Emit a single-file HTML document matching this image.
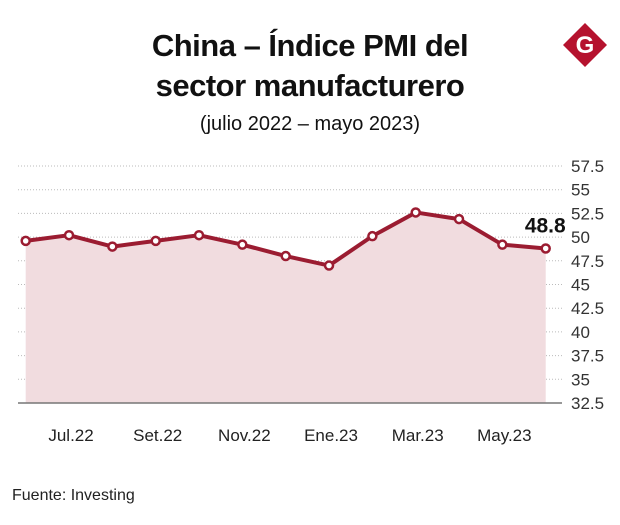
<!DOCTYPE html>
<html><head><meta charset="utf-8"><style>
body{margin:0;background:#fff;font-family:"Liberation Sans",sans-serif}
#wrap{position:relative;width:620px;height:525px;overflow:hidden}
.t{position:absolute;left:0;width:620px;text-align:center;color:#111}
</style></head><body>
<div id="wrap">
<div class="t" style="top:26px;font-size:31px;font-weight:bold;line-height:40px;letter-spacing:-0.5px">China – Índice PMI del<br>sector manufacturero</div>
<div class="t" style="top:113px;font-size:20px">(julio 2022 – mayo 2023)</div>
<svg style="position:absolute;left:562px;top:22px" width="46" height="46" viewBox="0 0 46 46">
<polygon points="23,1 45,23 23,45 1,23" fill="#b5122e"/>
<text x="23" y="31" text-anchor="middle" font-size="24" font-weight="bold" fill="#fff" font-family="Liberation Sans">G</text></svg>
<svg id="chart" width="620" height="525" style="position:absolute;left:0;top:0"></svg>
<div style="position:absolute;left:12px;top:487px;font-size:16px;color:#222">Fuente: Investing</div>
</div>
<script>
const values=[49.6,50.2,49.0,49.6,50.2,49.2,48.0,47.0,50.1,52.6,51.9,49.2,48.8];
const yTicks=[32.5,35,37.5,40,42.5,45,47.5,50,52.5,55,57.5];
const yTickLabels=["32.5","35","37.5","40","42.5","45","47.5","50","52.5","55","57.5"];
const xLabels=["Jul.22","Set.22","Nov.22","Ene.23","Mar.23","May.23"];
const xLabelIdx=[1,3,5,7,9,11];
const lastLabel="48.8";
const NS="http://www.w3.org/2000/svg",svg=document.getElementById('chart');
const x=i=>25.7+i*(545.7-25.7)/(values.length-1);
const y=v=>403-(v-32.5)*(403-166)/25;
function mk(t,a){const e=document.createElementNS(NS,t);for(const k in a)e.setAttribute(k,a[k]);svg.appendChild(e);return e;}
yTicks.forEach((v,i)=>{
 if(i>0){const g=mk('line',{x1:18,x2:562,y1:y(v),y2:y(v),stroke:'#bbb','stroke-dasharray':'1,2'});
 
 }
 const t=mk('text',{x:571,y:y(v)+6,'font-size':17,fill:'#333','font-family':'Liberation Sans'});t.textContent=yTickLabels[i];
 
 
});
let d='M'+x(0)+','+y(32.5);values.forEach((v,i)=>d+=' L'+x(i)+','+y(v));d+=' L'+x(values.length-1)+','+y(32.5)+'Z';
const area=mk('path',{d:d,fill:'#f1dcdf'});


const ax=mk('line',{x1:18,x2:562,y1:y(32.5),y2:y(32.5),stroke:'#777','stroke-width':1.5});


const line=mk('polyline',{points:values.map((v,i)=>x(i)+','+y(v)).join(' '),fill:'none',stroke:'#9b1c31','stroke-width':4,'stroke-linejoin':'round'});


values.forEach((v,i)=>{const c=mk('circle',{cx:x(i),cy:y(v),r:4,fill:'#fff',stroke:'#9b1c31','stroke-width':2.5});
 
 });
xLabels.forEach((l,i)=>{const t=mk('text',{x:x(xLabelIdx[i])+2,y:441,'text-anchor':'middle','font-size':17,fill:'#222','font-family':'Liberation Sans'});t.textContent=l;
 
 });
const lv=mk('text',{x:x(values.length-1)+20,y:y(values[values.length-1])-16,'text-anchor':'end','font-size':21,'font-weight':'bold',fill:'#111','font-family':'Liberation Sans'});lv.textContent=lastLabel;


</script>
</body></html>
